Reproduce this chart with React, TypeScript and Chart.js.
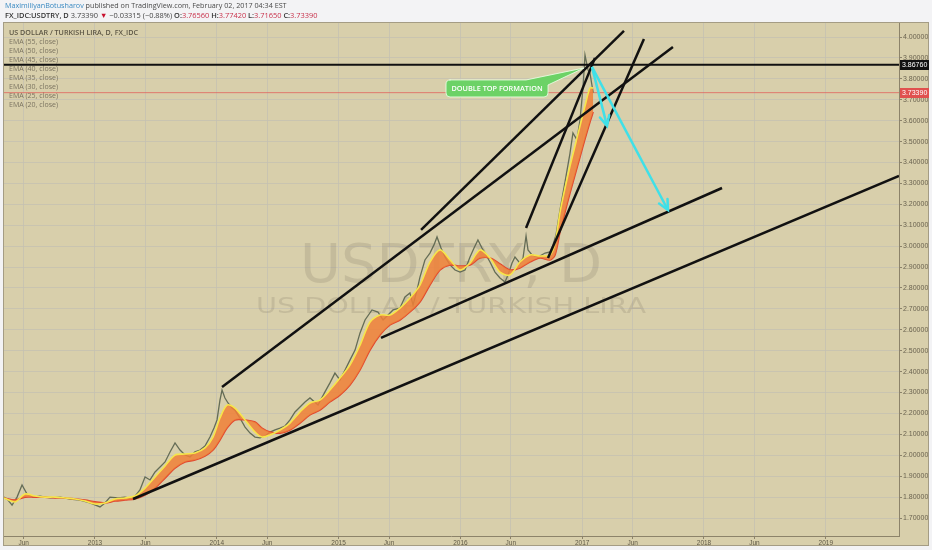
import React, { useEffect, useRef } from 'react';
import { Chart, registerables } from 'chart.js';

Chart.register(...registerables);

// ---- data (decimal years / USDTRY price) ----
const PRICE_DATES = [
  2012.253, 2012.286, 2012.319, 2012.36, 2012.401, 2012.442, 2012.491, 2012.548, 2012.631, 2012.713,
  2012.795, 2012.877, 2012.959, 2013.041, 2013.082, 2013.123, 2013.189, 2013.246, 2013.312, 2013.369,
  2013.411, 2013.452, 2013.493, 2013.534, 2013.575, 2013.616, 2013.657, 2013.698, 2013.739, 2013.78,
  2013.821, 2013.862, 2013.903, 2013.944, 2013.977, 2014.002, 2014.026, 2014.043, 2014.067, 2014.092,
  2014.125, 2014.149, 2014.19, 2014.232, 2014.273, 2014.314, 2014.355, 2014.396, 2014.437, 2014.478,
  2014.519, 2014.56, 2014.601, 2014.642, 2014.683, 2014.724, 2014.765, 2014.831, 2014.888, 2014.929,
  2014.97, 2015.011, 2015.053, 2015.094, 2015.135, 2015.176, 2015.217, 2015.274, 2015.323, 2015.365,
  2015.406, 2015.447, 2015.504, 2015.545, 2015.586, 2015.611, 2015.644, 2015.668, 2015.709, 2015.75,
  2015.783, 2015.808, 2015.841, 2015.874, 2015.915, 2015.956, 2015.997, 2016.038, 2016.079, 2016.112,
  2016.144, 2016.177, 2016.202, 2016.243, 2016.284, 2016.325, 2016.366, 2016.391, 2016.424, 2016.448,
  2016.489, 2016.514, 2016.539, 2016.555, 2016.588, 2016.637, 2016.695, 2016.736, 2016.76, 2016.785,
  2016.818, 2016.859, 2016.9, 2016.924, 2016.957, 2016.982, 2017.007, 2017.023, 2017.048, 2017.064,
  2017.077, 2017.09,
];
const PRICE_CLOSE = [
  1.8, 1.786, 1.762, 1.8, 1.858, 1.815, 1.8, 1.805, 1.796, 1.8,
  1.791, 1.786, 1.772, 1.753, 1.772, 1.8, 1.796, 1.8, 1.791, 1.834,
  1.896, 1.882, 1.92, 1.944, 1.968, 2.016, 2.059, 2.025, 2.001, 1.992,
  2.016, 2.025, 2.044, 2.087, 2.13, 2.169, 2.264, 2.312, 2.274, 2.25,
  2.226, 2.216, 2.178, 2.135, 2.106, 2.087, 2.083, 2.092, 2.111, 2.121,
  2.13, 2.14, 2.169, 2.207, 2.231, 2.255, 2.274, 2.24, 2.303, 2.346,
  2.393, 2.36, 2.408, 2.456, 2.503, 2.585, 2.647, 2.695, 2.685, 2.647,
  2.671, 2.695, 2.704, 2.757, 2.776, 2.719, 2.79, 2.852, 2.934, 2.967,
  3.006, 3.044, 2.991, 2.948, 2.91, 2.886, 2.876, 2.886, 2.948, 2.991,
  3.029, 2.991, 2.967, 2.924, 2.876, 2.848, 2.829, 2.862, 2.919, 2.948,
  2.919, 2.943, 3.049, 2.982, 2.958, 2.948, 2.967, 2.972, 3.006, 3.053,
  3.173, 3.307, 3.445, 3.541, 3.508, 3.603, 3.761, 3.914, 3.842, 3.828,
  3.78, 3.7339,
];
const EMA_DATES = [
  2012.253, 2012.343, 2012.425, 2012.507, 2012.589, 2012.672, 2012.754, 2012.836, 2012.918, 2013.0,
  2013.082, 2013.164, 2013.246, 2013.328, 2013.411, 2013.493, 2013.575, 2013.657, 2013.739, 2013.821,
  2013.903, 2013.969, 2014.026, 2014.084, 2014.149, 2014.232, 2014.314, 2014.371, 2014.437, 2014.519,
  2014.601, 2014.683, 2014.765, 2014.847, 2014.929, 2015.011, 2015.094, 2015.176, 2015.258, 2015.34,
  2015.422, 2015.504, 2015.586, 2015.668, 2015.75, 2015.833, 2015.915, 2015.997, 2016.079, 2016.161,
  2016.243, 2016.325, 2016.407, 2016.489, 2016.571, 2016.654, 2016.736, 2016.777, 2016.818, 2016.859,
  2016.9, 2016.941, 2016.982, 2017.023, 2017.064, 2017.09,
];
const EMA20 = [
  1.796, 1.777, 1.815, 1.805, 1.8, 1.8, 1.796, 1.791, 1.781, 1.767,
  1.772, 1.791, 1.796, 1.805, 1.843, 1.896, 1.949, 2.001, 2.006, 2.011,
  2.035, 2.087, 2.178, 2.24, 2.226, 2.169, 2.111, 2.087, 2.097, 2.121,
  2.154, 2.207, 2.25, 2.264, 2.312, 2.369, 2.432, 2.527, 2.637, 2.671,
  2.671, 2.704, 2.752, 2.814, 2.924, 2.982, 2.934, 2.886, 2.919, 2.982,
  2.943, 2.876, 2.862, 2.924, 2.958, 2.953, 2.958, 3.015, 3.163, 3.278,
  3.383, 3.479, 3.575, 3.67, 3.756, 3.756,
];
const EMA55 = [
  1.796, 1.786, 1.8, 1.8, 1.8, 1.796, 1.796, 1.791, 1.786, 1.777,
  1.772, 1.781, 1.786, 1.791, 1.81, 1.843, 1.891, 1.939, 1.968, 1.977,
  1.996, 2.025, 2.073, 2.13, 2.169, 2.169, 2.159, 2.13, 2.111, 2.106,
  2.121, 2.154, 2.193, 2.216, 2.255, 2.288, 2.336, 2.408, 2.503, 2.575,
  2.623, 2.647, 2.685, 2.733, 2.814, 2.886, 2.91, 2.905, 2.91, 2.943,
  2.943, 2.915, 2.886, 2.896, 2.924, 2.943, 2.934, 2.958, 3.068, 3.163,
  3.254, 3.34, 3.426, 3.512, 3.594, 3.641,
];

const X_TICKS = [2012.414, 2013, 2013.414, 2014, 2014.414, 2015, 2015.414, 2016, 2016.414, 2017, 2017.414, 2018, 2018.414, 2019];
const X_TICK_LABELS = ['Jun', '2013', 'Jun', '2014', 'Jun', '2015', 'Jun', '2016', 'Jun', '2017', 'Jun', '2018', 'Jun', '2019'];
const Y_TICKS = [1.7, 1.8, 1.9, 2.0, 2.1, 2.2, 2.3, 2.4, 2.5, 2.6, 2.7, 2.8, 2.9, 3.0, 3.1, 3.2, 3.3, 3.4, 3.5, 3.6, 3.7, 3.8, 3.9, 4.0];

const X_MIN = 2012.2447;
const X_MAX = 2019.601;
const Y_MIN = 1.614;
const Y_MAX = 4.067;

const LAST_PRICE = 3.7339;
const RESISTANCE = 3.8676;

// trend lines: [x1, y1, x2, y2]
const TREND_LINES = [
  [2013.312, 1.791, 2019.601, 3.3356],
  [2015.348, 2.561, 2018.148, 3.278],
  [2014.043, 2.3265, 2017.745, 3.9525],
  [2015.677, 3.0773, 2017.343, 4.029],
  [2016.539, 3.0869, 2017.105, 3.9003],
  [2016.719, 2.9434, 2017.507, 3.9908],
];
const ARROWS = [
  [2017.08, 3.857, 2017.204, 3.575],
  [2017.08, 3.857, 2017.704, 3.173],
];
const CALLOUT_TIP = [2017.015, 3.852];
const CALLOUT_TEXT = 'DOUBLE TOP FORMATION';

const LEGEND_TITLE = 'US DOLLAR / TURKISH LIRA, D, FX_IDC';
const LEGEND_ITEMS = [
  'EMA (55, close)', 'EMA (50, close)', 'EMA (45, close)', 'EMA (40, close)',
  'EMA (35, close)', 'EMA (30, close)', 'EMA (25, close)', 'EMA (20, close)',
];
const WATERMARK_1 = 'USDTRY, D';
const WATERMARK_2 = 'US DOLLAR / TURKISH LIRA';

const HEADER_1 = [
  { t: 'MaximiliyanBotusharov', c: '#3a8ac2', b: false },
  { t: ' published on TradingView.com, February 02, 2017 04:34 EST', c: '#4a4a4a', b: false },
];
const HEADER_2 = [
  { t: 'FX_IDC:USDTRY, D', c: '#333333', b: true },
  { t: ' 3.73390 ', c: '#444444', b: false },
  { t: '▼', c: '#c8102e', b: false },
  { t: ' −0.03315 (−0.88%) ', c: '#444444', b: false },
  { t: 'O:', c: '#333333', b: true },
  { t: '3.76560 ', c: '#c8304a', b: false },
  { t: 'H:', c: '#333333', b: true },
  { t: '3.77420 ', c: '#c8304a', b: false },
  { t: 'L:', c: '#333333', b: true },
  { t: '3.71650 ', c: '#c8304a', b: false },
  { t: 'C:', c: '#333333', b: true },
  { t: '3.73390', c: '#c8304a', b: false },
];

type Run = { t: string; c: string; b: boolean };

function drawRuns(ctx: CanvasRenderingContext2D, runs: Run[], x: number, y: number, target: number, base: number, family: string) {
  const fontFor = (b: boolean, s: number) => `${b ? '600 ' : ''}${s}px ${family}`;
  let w = 0;
  for (const r of runs) { ctx.font = fontFor(r.b, base); w += ctx.measureText(r.t).width; }
  const s = base * target / w;
  let cx = x;
  ctx.textBaseline = 'middle';
  ctx.textAlign = 'left';
  for (const r of runs) {
    ctx.font = fontFor(r.b, s);
    ctx.fillStyle = r.c;
    ctx.fillText(r.t, cx, y);
    cx += ctx.measureText(r.t).width;
  }
}

function stretchText(ctx: CanvasRenderingContext2D, text: string, cx: number, baseline: number, size: number, target: number, family: string) {
  ctx.save();
  ctx.font = `${size}px ${family}`;
  const w = ctx.measureText(text).width;
  ctx.translate(cx, baseline);
  ctx.scale(target / w, 1);
  ctx.textAlign = 'center';
  ctx.textBaseline = 'alphabetic';
  ctx.fillText(text, 0, 0);
  ctx.restore();
}

const tvPlugin = {
  id: 'tvDecor',
  beforeDraw(chart: any) {
    const { ctx, width, height } = chart;
    ctx.save();
    ctx.fillStyle = '#f3f3f5';
    ctx.fillRect(0, 0, width, height);
    ctx.fillStyle = '#d8cfab';
    ctx.fillRect(3, 22, 926, 524);
    ctx.restore();
  },
  beforeDatasetsDraw(chart: any) {
    const { ctx, chartArea } = chart;
    const cx = (chartArea.left + chartArea.right) / 2;
    ctx.save();
    ctx.fillStyle = 'rgba(120,112,95,0.2)';
    stretchText(ctx, WATERMARK_1, cx, 282, 53, 302, '"DejaVu Sans"');
    stretchText(ctx, WATERMARK_2, cx, 313, 20.5, 390, '"DejaVu Sans"');
    // legend
    ctx.textBaseline = 'middle';
    ctx.textAlign = 'left';
    drawRuns(ctx, [{ t: LEGEND_TITLE, c: '#5c5645', b: true }], 9, 33, 129, 7.5, '"Open Sans"');
    ctx.font = '7.2px "Open Sans"';
    const w = ctx.measureText(LEGEND_ITEMS[0]).width;
    const s = 7.2 * 49 / w;
    ctx.font = `${s}px "Open Sans"`;
    ctx.fillStyle = '#7b7461';
    LEGEND_ITEMS.forEach((t, i) => ctx.fillText(t, 9, 42.3 + i * 9));
    ctx.restore();
  },
  afterDatasetsDraw(chart: any) {
    const { ctx } = chart;
    const xs = chart.scales.x;
    const ys = chart.scales.y;
    ctx.save();
    // arrowheads
    ctx.strokeStyle = '#3fe0e8';
    ctx.lineWidth = 2.5;
    ctx.lineCap = 'round';
    for (const a of ARROWS) {
      const x1 = xs.getPixelForValue(a[0]);
      const y1 = ys.getPixelForValue(a[1]);
      const x2 = xs.getPixelForValue(a[2]);
      const y2 = ys.getPixelForValue(a[3]);
      const ang = Math.atan2(y2 - y1, x2 - x1);
      const L = 11;
      ctx.beginPath();
      ctx.moveTo(x2 - L * Math.cos(ang - 0.45), y2 - L * Math.sin(ang - 0.45));
      ctx.lineTo(x2, y2);
      ctx.lineTo(x2 - L * Math.cos(ang + 0.45), y2 - L * Math.sin(ang + 0.45));
      ctx.stroke();
    }
    // callout
    const tx = xs.getPixelForValue(CALLOUT_TIP[0]);
    const ty = ys.getPixelForValue(CALLOUT_TIP[1]);
    const bx = tx - 138;
    const by = ty + 12;
    const bw = 102;
    const bh = 17;
    const r = 4;
    ctx.beginPath();
    ctx.moveTo(bx + r, by);
    ctx.lineTo(bx + bw - 22, by);
    ctx.lineTo(tx, ty);
    ctx.lineTo(bx + bw, by + 5);
    ctx.lineTo(bx + bw, by + bh - r);
    ctx.quadraticCurveTo(bx + bw, by + bh, bx + bw - r, by + bh);
    ctx.lineTo(bx + r, by + bh);
    ctx.quadraticCurveTo(bx, by + bh, bx, by + bh - r);
    ctx.lineTo(bx, by + r);
    ctx.quadraticCurveTo(bx, by, bx + r, by);
    ctx.closePath();
    ctx.fillStyle = '#6cd266';
    ctx.fill();
    ctx.strokeStyle = 'rgba(235,255,230,0.85)';
    ctx.lineWidth = 1;
    ctx.stroke();
    ctx.fillStyle = '#ffffff';
    ctx.font = '600 7.3px "Open Sans"';
    ctx.textAlign = 'center';
    ctx.textBaseline = 'middle';
    ctx.fillText(CALLOUT_TEXT, bx + bw / 2, by + bh / 2 + 0.5);
    ctx.restore();
  },
  afterDraw(chart: any) {
    const { ctx } = chart;
    const ys = chart.scales.y;
    ctx.save();
    ctx.strokeStyle = '#a49c84';
    ctx.lineWidth = 1;
    ctx.strokeRect(3.5, 22.5, 925, 523);
    const boxes: [number, string][] = [[RESISTANCE, '#111111'], [LAST_PRICE, '#e0514f']];
    for (const [v, col] of boxes) {
      const y = ys.getPixelForValue(v);
      ctx.fillStyle = col;
      ctx.fillRect(900, Math.round(y) - 5, 29, 10);
      ctx.fillStyle = '#ffffff';
      ctx.font = '7px "Liberation Sans"';
      ctx.textAlign = 'left';
      ctx.textBaseline = 'middle';
      ctx.fillText(v.toFixed(5), 902, Math.round(y) + 0.5);
    }
    drawRuns(ctx, HEADER_1, 5, 6, 282, 7.5, '"Open Sans"');
    drawRuns(ctx, HEADER_2, 5, 15.5, 313, 7.5, '"Open Sans"');
    ctx.restore();
  },
};

const pts = (xs: number[], ys: number[]) => xs.map((x, i) => ({ x, y: ys[i] }));

export default function App() {
  const ref = useRef<HTMLCanvasElement>(null);
  useEffect(() => {
    document.body.style.margin = '0';
    document.body.style.background = '#f3f3f5';
    const lineDs = (data: any[], color: string, width: number, order: number) => ({
      type: 'line' as const,
      data,
      borderColor: color,
      borderWidth: width,
      pointRadius: 0,
      tension: 0,
      fill: false,
      order,
    });
    const datasets: any[] = [
      lineDs([{ x: X_MIN, y: LAST_PRICE }, { x: X_MAX, y: LAST_PRICE }], 'rgba(226,92,88,0.75)', 1, 6),
      lineDs(pts(PRICE_DATES, PRICE_CLOSE), 'rgba(88,98,76,0.9)', 1.3, 5),
      { ...lineDs(pts(EMA_DATES, EMA20), '#f6e64a', 1.6, 4), fill: { target: '+1' }, backgroundColor: 'rgba(240,128,55,0.85)', tension: 0.3 },
      { ...lineDs(pts(EMA_DATES, EMA55), '#df4530', 1.6, 4), tension: 0.3 },
      lineDs([{ x: X_MIN, y: RESISTANCE }, { x: X_MAX, y: RESISTANCE }], '#111111', 2, 2),
      ...TREND_LINES.map((l) => lineDs([{ x: l[0], y: l[1] }, { x: l[2], y: l[3] }], '#111111', 2.5, 1)),
      ...ARROWS.map((a) => lineDs([{ x: a[0], y: a[1] }, { x: a[2], y: a[3] }], '#3fe0e8', 2.5, 0)),
    ];
    const chart = new Chart(ref.current as HTMLCanvasElement, {
      type: 'line',
      data: { datasets },
      options: {
        animation: false,
        responsive: false,
        events: [],
        layout: { padding: { left: 3, top: 23, right: 3, bottom: 4 } },
        plugins: { legend: { display: false }, tooltip: { enabled: false } },
        scales: {
          x: {
            type: 'linear',
            min: X_MIN,
            max: X_MAX,
            afterBuildTicks: (s: any) => { s.ticks = X_TICKS.map((v) => ({ value: v })); },
            afterFit: (s: any) => { s.height = 10; },
            ticks: {
              autoSkip: false,
              maxRotation: 0,
              padding: 0,
              color: '#5f5946',
              font: { family: '"Liberation Sans"', size: 6.5 },
              callback: (_v: any, i: number) => X_TICK_LABELS[i],
            },
            grid: { color: 'rgba(196,192,178,0.75)', tickLength: 3, tickColor: '#8c836a', lineWidth: 1 },
            border: { display: true, color: '#8c836a', width: 1 },
          },
          y: {
            type: 'linear',
            position: 'right',
            min: Y_MIN,
            max: Y_MAX,
            afterBuildTicks: (s: any) => { s.ticks = Y_TICKS.map((v) => ({ value: v })); },
            afterFit: (s: any) => { s.width = 30; },
            ticks: {
              autoSkip: false,
              padding: 1,
              color: '#6a6350',
              font: { family: '"Liberation Sans"', size: 7 },
              callback: (v: any) => Number(v).toFixed(5),
            },
            grid: { color: 'rgba(196,192,178,0.75)', tickLength: 3, tickColor: '#8c836a', lineWidth: 1 },
            border: { display: true, color: '#8c836a', width: 1 },
          },
        },
      },
      plugins: [tvPlugin],
    });
    return () => chart.destroy();
  }, []);
  return (
    <div style={{ width: 932, height: 550, position: 'relative' }}>
      <canvas ref={ref} width={932} height={550} style={{ display: 'block', width: 932, height: 550 }} />
    </div>
  );
}
